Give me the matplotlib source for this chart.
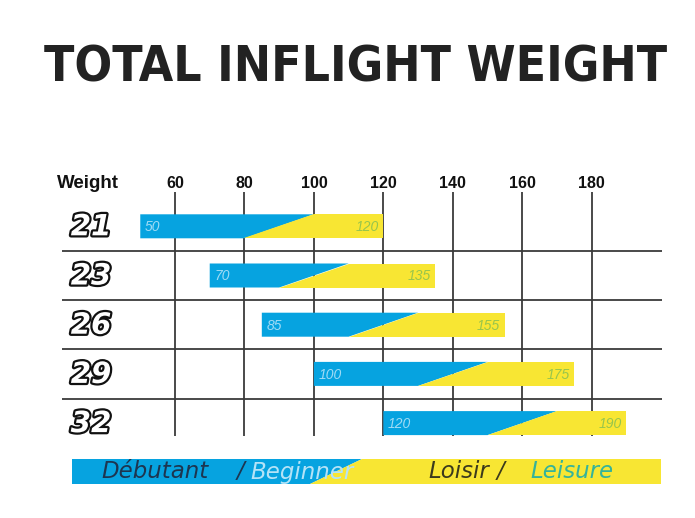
import matplotlib
matplotlib.use("Agg")
import matplotlib.pyplot as plt
import matplotlib.patheffects as pe
from matplotlib import font_manager

# ---- data ----
sizes = ["21", "23", "26", "29", "32"]
weight_min = [50, 70, 85, 100, 120]
split_bottom = [80, 90, 110, 130, 150]
split_top = [100, 110, 130, 150, 170]
weight_max = [120, 135, 155, 175, 190]
tick_values = [60, 80, 100, 120, 140, 160, 180]
title = "TOTAL INFLIGHT WEIGHT"
axis_label = "Weight"
legend_parts = [("Débutant", "#1d3550"), ("/", "#1d3550"), ("Beginner", "#b5e3f7"),
                ("Loisir", "#3b3a1c"), ("/", "#3b3a1c"), ("Leisure", "#35b39a")]

BLUE = "#06a3e0"
YELLOW = "#f8e633"

W, H = 695, 518
fig = plt.figure(figsize=(W / 100, H / 100), dpi=100)
ax = fig.add_axes([0, 0, 1, 1])
ppu = (591.7 - 175.0) / 120.0          # pixels per kg
x0 = 60 - 175.0 / ppu
ax.set_xlim(x0, x0 + W / ppu)
ax.set_ylim(H, 0)
ax.axis("off")

def px(x):
    return x0 + x / ppu

row_y = [226.3 + i * 49.2 for i in range(len(sizes))]
half = 12.0

# grid lines
ax.vlines(tick_values, 192, 436, color="#3a3a3a", lw=1.3, zorder=1)
for i in range(len(sizes) - 1):
    yl = (row_y[i] + row_y[i + 1]) / 2
    ax.hlines(yl, px(62), px(662), color="#3a3a3a", lw=1.3, zorder=1)

# tick labels
for t in tick_values:
    ax.text(t, 183, str(t), ha="center", va="center", fontsize=11.5,
            fontweight="bold", family="Liberation Sans", color="#111111")
ax.text(px(57), 183, axis_label, ha="left", va="center", fontsize=13.5,
        fontweight="bold", family="Liberation Sans", color="#111111")

# bars
for i, s in enumerate(sizes):
    yc = row_y[i]
    top, bot = yc - half, yc + half
    a, b, c, d = weight_min[i], split_bottom[i], split_top[i], weight_max[i]
    ax.fill([a, c, b, a], [top, top, bot, bot], color=BLUE, lw=0, zorder=2)
    ax.fill([c, d, d, b], [top, top, bot, bot], color=YELLOW, lw=0, zorder=2)
    ax.text(a + 1.3, yc + 1, str(a), ha="left", va="center", fontsize=10,
            style="italic", family="Liberation Sans", color="#9fdbf5", zorder=3)
    ax.text(d - 1.3, yc + 1, str(d), ha="right", va="center", fontsize=10,
            style="italic", family="Liberation Sans", color="#98c54c", zorder=3)
    ax.text(px(91), yc + 1, s, ha="center", va="center", fontsize=21,
            fontweight="heavy", style="italic", family="DejaVu Sans",
            color="white", zorder=3,
            path_effects=[pe.withStroke(linewidth=3.2, foreground="#111111")])

# title (condensed if available; size fitted to the reference width)
tt = ax.text(px(356), 67, title, ha="center", va="center", fontsize=40,
             fontweight="bold", family="DejaVu Sans", fontstretch="condensed",
             color="#222222")
fig.canvas.draw()
wpx = tt.get_window_extent(fig.canvas.get_renderer()).width
tt.set_fontsize(40 * 622.0 / wpx)

# legend band
lt, lb = 459, 484
ax.fill([px(72), px(362), px(310), px(72)], [lt, lt, lb, lb], color=BLUE, lw=0, zorder=1)
ax.fill([px(362), px(661), px(661), px(310)], [lt, lt, lb, lb], color=YELLOW, lw=0, zorder=1)
leg_x = [101, 237, 250, 428, 497, 530]
for (txt, col), xx in zip(legend_parts, leg_x):
    ax.text(px(xx), 472, txt, ha="left", va="center", fontsize=16.5,
            style="italic", family="DejaVu Sans", color=col, zorder=3)

fig.savefig("out.png", dpi=100)
